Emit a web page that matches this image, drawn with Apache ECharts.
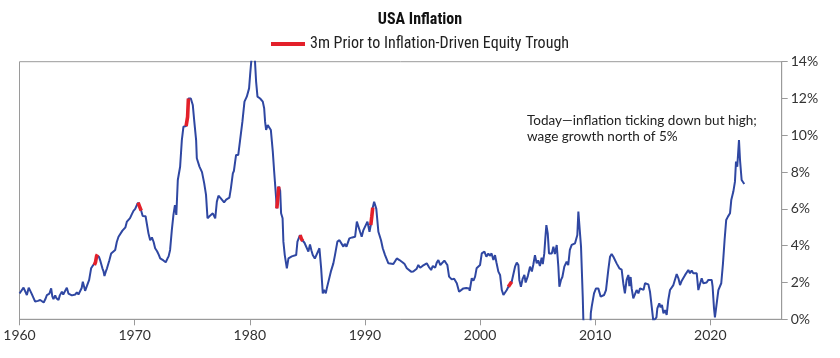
<!DOCTYPE html>
<html><head><meta charset="utf-8">
<script src="https://cdn.jsdelivr.net/npm/echarts@6/dist/echarts.min.js"></script>
<style>html,body{margin:0;padding:0;background:#fff}#c{width:840px;height:358px}</style>
</head><body><div id="c"></div>
<script>
const title = 'USA Inflation';
const troughName = '3m Prior to Inflation-Driven Equity Trough';
const note = 'Today\u2014inflation ticking down but high;\nwage growth north of 5%';

const years = [
1960.0,1960.06,1960.35,1960.45,1960.64,1960.8,1960.95,1961.07,1961.2,1961.36,1961.45,1961.6,1961.7,1961.8,1961.95,
1962.1,1962.25,1962.38,1962.5,1962.6,1962.75,1962.85,1962.95,1963.1,1963.2,1963.39,1963.5,1963.68,1963.8,1963.9,
1964.11,1964.25,1964.4,1964.55,1964.7,1964.85,1964.98,1965.12,1965.27,1965.4,1965.5,1965.6,1965.7,1965.85,
1966.05,1966.22,1966.35,1966.5,1966.6,1966.7,1966.77,1966.9,1967.0,1967.2,1967.3,1967.38,1967.5,1967.6,1967.8,1967.96,
1968.1,1968.31,1968.45,1968.6,1968.75,1968.94,1969.1,1969.2,1969.33,1969.45,1969.6,1969.75,1969.9,
1970.05,1970.19,1970.3,1970.45,1970.57,1970.7,1970.8,1970.95,1971.2,1971.35,1971.5,1971.65,1971.78,1971.95,
1972.1,1972.22,1972.35,1972.5,1972.7,1972.85,1972.95,1973.08,1973.23,1973.37,1973.5,1973.62,1973.75,1973.95,
1974.1,1974.24,1974.35,1974.47,1974.6,1974.67,1974.88,1975.05,1975.17,1975.34,1975.4,1975.55,1975.63,1975.75,1975.85,
1976.04,1976.2,1976.33,1976.5,1976.65,1976.79,1977.0,1977.14,1977.28,1977.45,1977.6,1977.77,1977.95,
1978.1,1978.23,1978.36,1978.53,1978.62,1978.81,1979.0,1979.16,1979.36,1979.54,1979.74,1979.94,
1980.03,1980.18,1980.3,1980.42,1980.55,1980.67,1980.9,1981.13,1981.25,1981.33,1981.42,1981.56,1981.71,1981.83,
1982.0,1982.12,1982.29,1982.35,1982.45,1982.52,1982.64,1982.72,1982.85,1982.92,1983.04,1983.22,1983.36,1983.5,1983.65,1983.79,
1984.03,1984.14,1984.25,1984.37,1984.5,1984.6,1984.75,1984.9,1985.09,1985.23,1985.35,1985.47,1985.65,1985.82,
1986.05,1986.2,1986.34,1986.45,1986.6,1986.69,1986.82,1987.04,1987.26,1987.4,1987.61,1987.79,1987.95,
1988.13,1988.25,1988.4,1988.65,1988.9,1989.15,1989.3,1989.38,1989.58,1989.72,1989.87,
1990.04,1990.22,1990.4,1990.51,1990.6,1990.68,1990.8,1990.99,1991.17,1991.4,1991.55,1991.75,1991.9,
1992.04,1992.2,1992.47,1992.6,1992.77,1993.0,1993.1,1993.26,1993.45,1993.64,1993.8,
1994.01,1994.2,1994.36,1994.5,1994.64,1994.8,1995.0,1995.15,1995.37,1995.55,1995.75,1995.9,
1996.1,1996.24,1996.38,1996.55,1996.7,1996.9,1997.16,1997.31,1997.54,1997.75,1997.98,
1998.18,1998.35,1998.55,1998.8,1999.05,1999.1,1999.28,1999.43,1999.57,1999.7,1999.85,
2000.0,2000.15,2000.27,2000.38,2000.55,2000.72,2000.85,2001.0,2001.16,2001.3,2001.42,2001.59,2001.74,2001.89,
2002.03,2002.17,2002.32,2002.46,2002.6,2002.75,2002.9,2003.04,2003.19,2003.33,2003.41,2003.55,2003.7,2003.85,2003.96,
2004.15,2004.34,2004.5,2004.62,2004.77,2004.92,2005.05,2005.2,2005.35,2005.45,2005.58,2005.67,2005.76,2005.88,2005.99,
2006.1,2006.23,2006.37,2006.5,2006.66,2006.8,2006.89,2007.03,2007.15,2007.32,2007.52,2007.66,2007.8,2007.96,
2008.1,2008.25,2008.34,2008.45,2008.54,2008.66,2008.77,2008.92,2008.97,2009.1,2009.3,2009.5,2009.58,2009.62,2009.7,2009.9,
2010.07,2010.27,2010.48,2010.65,2010.77,2010.94,2011.14,2011.29,2011.43,2011.58,2011.72,2011.86,
2012.1,2012.3,2012.44,2012.58,2012.73,2012.88,2012.97,2013.08,2013.17,2013.31,2013.45,2013.6,2013.75,2013.9,
2014.05,2014.2,2014.33,2014.48,2014.62,2014.76,2014.91,2015.05,2015.2,2015.32,2015.4,2015.57,2015.68,2015.8,2015.93,
2016.07,2016.21,2016.35,2016.5,2016.65,2016.79,2016.94,2017.08,2017.23,2017.37,2017.52,2017.66,2017.8,2017.95,
2018.09,2018.23,2018.38,2018.52,2018.67,2018.82,2018.96,2019.1,2019.25,2019.39,2019.53,2019.68,2019.83,2019.97,
2020.12,2020.2,2020.32,2020.4,2020.5,2020.7,2020.8,2020.95,2021.1,2021.24,2021.38,2021.53,2021.71,2021.82,
2022.0,2022.14,2022.23,2022.34,2022.49,2022.58,2022.72,2022.86,2022.95
];
const inflation = [
1.4,1.37,1.72,1.7,1.32,1.72,1.65,1.37,1.3,0.96,0.87,1.0,0.9,1.05,0.95,
0.91,1.1,1.32,1.23,1.4,1.68,1.25,1.1,1.3,1.15,1.05,1.3,1.5,1.35,1.45,
1.72,1.4,1.32,1.3,1.23,1.35,1.46,1.35,1.32,1.7,2.04,1.8,1.55,1.8,
2.14,2.77,2.9,2.95,3.1,3.45,3.53,3.4,3.22,2.77,2.6,2.35,2.6,2.77,3.2,3.58,
3.65,3.77,4.2,4.49,4.45,4.82,4.75,5.0,5.31,5.35,5.5,5.7,5.89,
6.0,6.2,6.34,6.1,5.9,5.61,5.65,5.6,4.67,4.3,4.45,4.2,3.86,3.7,
3.5,3.31,3.3,3.2,3.1,3.3,3.42,3.77,4.85,5.67,6.21,5.67,7.57,8.29,
9.74,10.47,10.55,10.5,11.0,12.0,12.0,11.65,10.83,9.74,8.75,8.8,8.3,8.4,8.0,
7.4,6.76,5.49,5.6,5.7,5.76,5.49,6.39,6.72,6.6,6.6,6.36,6.5,
6.55,6.61,7.12,7.93,8.06,8.93,8.93,9.74,10.74,11.83,12.1,12.55,
13.28,14.4,14.8,14.4,12.92,12.1,12.0,11.83,11.47,10.74,10.29,10.56,10.65,10.29,
9.11,8.02,6.57,6.03,6.7,7.21,7.0,5.76,5.49,4.22,3.49,2.77,3.31,3.4,3.42,3.4,
3.49,4.22,4.4,4.58,4.35,4.26,4.16,4.07,3.68,4.07,3.75,3.49,3.3,3.22,
3.86,2.77,1.41,1.6,1.41,1.68,1.77,2.59,3.04,3.49,4.22,4.3,4.22,
3.95,4.1,3.95,4.4,4.45,4.49,5.31,5.4,4.76,4.49,4.85,
4.94,5.31,4.76,5.12,5.6,6.07,6.39,6.0,4.76,4.3,3.86,3.49,3.5,
3.04,3.05,3.0,3.1,3.31,3.22,3.25,3.1,3.0,2.77,2.85,
2.59,2.6,2.5,2.75,2.95,2.8,2.9,2.85,3.04,2.85,2.68,2.9,
2.8,3.08,3.22,2.95,3.05,3.19,2.95,2.32,2.17,2.2,1.96,
1.5,1.6,1.68,1.7,1.68,1.55,2.23,2.1,2.32,2.77,2.77,
2.95,3.58,3.5,3.68,3.4,3.58,3.45,3.58,3.22,3.49,3.1,2.59,2.41,1.59,
1.32,1.27,1.59,1.77,1.9,2.04,2.1,2.86,3.08,2.95,2.14,1.77,2.2,2.41,2.0,
2.35,2.86,2.6,2.95,3.49,3.04,3.2,2.9,3.35,3.0,3.58,4.4,5.12,4.67,3.58,
3.5,3.58,3.95,3.55,4.04,2.86,1.77,2.14,2.3,2.86,3.13,2.95,3.77,4.04,
4.1,4.13,4.13,4.58,5.85,4.85,3.95,1.23,0.0,-0.5,-1.3,-2.1,-0.5,0.33,0.69,1.41,
1.68,1.68,1.23,1.3,1.32,1.59,2.68,3.4,3.55,3.4,3.49,3.04,
2.77,2.7,1.96,1.41,2.14,2.41,1.8,2.3,1.68,1.14,1.35,1.59,1.41,1.68,
1.77,1.6,1.96,2.0,1.9,1.5,0.69,-0.1,-0.1,0.1,0.6,0.87,0.65,0.78,0.33,
0.5,0.24,1.05,1.59,1.5,1.86,1.95,2.46,2.23,1.86,2.1,2.25,2.4,2.3,
2.68,2.5,2.65,2.5,2.55,2.5,1.59,1.9,2.23,1.96,1.9,2.0,2.14,2.14,
2.14,1.77,0.6,0.1,0.6,1.59,1.59,1.96,3.04,4.31,5.4,5.58,5.76,6.48,
6.94,7.48,8.57,8.29,9.74,8.66,7.57,7.48,7.35
];
const troughWindows = [
  [1966.45, 1966.8], [1970.25, 1970.6], [1974.45, 1974.7], [1982.33, 1982.55],
  [1984.35, 1984.62], [1990.5, 1990.7], [2002.44, 2002.77]
];
const xTicks = [1960, 1970, 1980, 1990, 2000, 2010, 2020];
const xMin = 1960, xMax = 2026.2;
const yMin = 0, yMax = 14, yStep = 2;

const mainData = years.map((y, i) => [y, inflation[i]]);
const troughSeries = troughWindows.map(w => ({
  name: troughName,
  type: 'line',
  data: mainData.filter(p => p[0] >= w[0] - 1e-9 && p[0] <= w[1] + 1e-9),
  symbol: 'none',
  z: 5,
  lineStyle: { color: '#e3202a', width: 3.6, cap: 'butt' },
  itemStyle: { color: '#e3202a' }
}));

const narrow = '"Liberation Sans Narrow", "Roboto Condensed", Roboto, sans-serif';
const chart = echarts.init(document.getElementById('c'), null, { renderer: 'canvas' });
chart.setOption({
  animation: false,
  backgroundColor: '#fff',
  textStyle: { fontFamily: 'Lato, "Open Sans", sans-serif' },
  title: {
    text: title, left: 'center', top: 7,
    textStyle: { fontFamily: narrow, fontSize: 16, fontWeight: 'bold', color: '#111' }
  },
  legend: {
    data: [troughName], top: 31, left: 'center',
    icon: 'rect', itemWidth: 34, itemHeight: 4, itemGap: 8,
    itemStyle: { color: '#e3202a' },
    textStyle: { fontFamily: narrow, fontSize: 16, color: '#222' }
  },
  grid: { left: 19.5, right: 58.3, top: 61.7, bottom: 38.7, show: true, borderColor: '#9a9a9a', borderWidth: 1 },
  xAxis: {
    type: 'value', min: xMin, max: xMax,
    axisLine: { show: true, lineStyle: { color: '#9a9a9a', width: 1 } },
    axisTick: { show: true, length: 6, lineStyle: { color: '#9a9a9a' }, customValues: xTicks },
    axisLabel: { customValues: xTicks, color: '#333', fontSize: 14, margin: 9, formatter: v => String(v) },
    splitLine: { show: false }
  },
  yAxis: {
    type: 'value', position: 'right', min: yMin, max: yMax, interval: yStep,
    axisLine: { show: true, lineStyle: { color: '#9a9a9a', width: 1 } },
    axisTick: { show: true, length: 6, lineStyle: { color: '#9a9a9a' } },
    axisLabel: { color: '#333', fontSize: 14, margin: 9, formatter: '{value}%' },
    splitLine: { show: false }
  },
  graphic: [{
    type: 'text', left: 527, top: 113,
    style: { text: note, fill: '#222', font: '13.5px Lato, "Open Sans", sans-serif', lineHeight: 15.5 }
  }],
  series: [{
    name: 'USA Inflation',
    type: 'line',
    data: mainData,
    symbol: 'none',
    clip: true,
    z: 3,
    lineStyle: { color: '#2f47a2', width: 2 },
    itemStyle: { color: '#2f47a2' }
  }].concat(troughSeries)
});
</script>
</body></html>
